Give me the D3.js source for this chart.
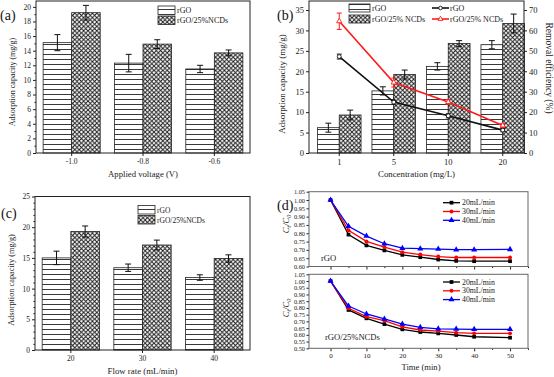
<!DOCTYPE html>
<html lang="en">
<head>
<meta charset="utf-8">
<title>Adsorption panels</title>
<script src="https://cdn.jsdelivr.net/npm/d3@7"></script>
<style>
  body { margin: 0; background: #fff; }
  svg { display: block; font-family: "Liberation Serif", "Times New Roman", serif; }
</style>
</head>
<body>
<script>
// (a) applied voltage
const voltages = ["-1.0", "-0.8", "-0.6"];
const voltRGO = [15.1, 12.3, 11.5];
const voltRGOErr = [1.1, 1.2, 0.5];
const voltNCD = [19.2, 14.9, 13.7];
const voltNCDErr = [1.0, 0.6, 0.4];

// (b) concentration
const concs = ["1", "5", "10", "20"];
const concRGO = [6.2, 15.2, 21.2, 26.5];
const concRGOErr = [1.1, 1.0, 0.9, 1.0];
const concNCD = [9.3, 19.2, 26.8, 31.7];
const concNCDErr = [1.2, 1.1, 0.7, 2.3];
const remRGO = [47.2, 24.9, 18.2, 11.2];
const remRGOErr = [1.2, 1.0, 1.0, 0.8];
const remNCD = [64.5, 34.5, 25.0, 13.5];
const remNCDErr = [4.0, 2.2, 1.2, 1.0];

// (c) flow rate
const flows = ["20", "30", "40"];
const flowRGO = [15.0, 13.4, 11.8];
const flowRGOErr = [1.1, 0.6, 0.45];
const flowNCD = [19.3, 17.1, 14.9];
const flowNCDErr = [0.9, 0.8, 0.6];

// (d) Ct/C0 vs time
const times = [0, 5, 10, 15, 20, 25, 30, 35, 40, 50];
const flowNames = ["20mL/min", "30mL/min", "40mL/min"];
const rgo20 = [1.00, 0.792, 0.727, 0.697, 0.670, 0.656, 0.642, 0.634, 0.632, 0.632];
const rgo30 = [1.00, 0.818, 0.751, 0.717, 0.686, 0.672, 0.660, 0.654, 0.654, 0.654];
const rgo40 = [1.00, 0.842, 0.783, 0.737, 0.710, 0.707, 0.705, 0.701, 0.701, 0.703];
const ncd20 = [1.00, 0.785, 0.723, 0.680, 0.641, 0.621, 0.611, 0.599, 0.586, 0.579];
const ncd30 = [1.00, 0.797, 0.735, 0.705, 0.660, 0.636, 0.628, 0.616, 0.611, 0.611];
const ncd40 = [1.00, 0.814, 0.755, 0.718, 0.680, 0.656, 0.645, 0.643, 0.641, 0.641];

const FONT = '"Liberation Serif", "Times New Roman", serif';
const INK = "#222";

let svg = d3.select("body").append("svg")
  .attr("width", 554)
  .attr("height", 377);

// fill patterns
let defs = svg.append("defs");
let hp = defs.append("pattern").attr("id", "hstripe")
  .attr("patternUnits", "userSpaceOnUse").attr("width", 6).attr("height", 5);
hp.append("rect").attr("width", 6).attr("height", 5).attr("fill", "#fff");
hp.append("line").attr("x1", 0).attr("x2", 6).attr("y1", 4.5).attr("y2", 4.5)
  .attr("stroke", "#222").attr("stroke-width", 0.9);

let xp = defs.append("pattern").attr("id", "xhatch")
  .attr("patternUnits", "userSpaceOnUse").attr("width", 4.4).attr("height", 4.4);
xp.append("rect").attr("width", 4.4).attr("height", 4.4).attr("fill", "#fff");
xp.append("path").attr("d", "M-1,-1L5.4,5.4M5.4,-1L-1,5.4")
  .attr("stroke", "#1a1a1a").attr("stroke-width", 0.95);

function styleAxis(sel, fs) {
  sel.select(".domain").remove();
  sel.attr("font-family", FONT);
  sel.selectAll("text").attr("font-size", fs).attr("fill", INK);
  sel.selectAll("line").attr("stroke", INK);
}

function frame(g, x0, y0, x1, y1, color) {
  g.append("rect")
    .attr("x", x0).attr("y", y0)
    .attr("width", x1 - x0).attr("height", y1 - y0)
    .attr("fill", "none")
    .attr("stroke", color || INK)
    .attr("stroke-width", 1);
}

function label(g, txt, x, y, fs, rot) {
  let t = g.append("text")
    .attr("font-size", fs)
    .attr("fill", INK)
    .attr("text-anchor", "middle")
    .text(txt);
  if (rot) t.attr("transform", `translate(${x},${y}) rotate(${rot})`);
  else t.attr("x", x).attr("y", y);
  return t;
}

function errBars(g, xs, ys, lo, hi, color, cap) {
  g.selectAll(null).data(xs).enter().append("path")
    .attr("d", (d, i) => {
      let a = ys(lo[i]), b = ys(hi[i]);
      return `M${d},${a}V${b}M${d - cap},${a}H${d + cap}M${d - cap},${b}H${d + cap}`;
    })
    .attr("fill", "none")
    .attr("stroke", color)
    .attr("stroke-width", 1);
}

function barPanel(p) {
  let g = svg.append("g");
  let x = d3.scaleBand().domain(p.cats).range(p.xRange)
    .paddingInner(0.2).paddingOuter(0.1);
  let inner = d3.scaleBand().domain(["rgo", "ncd"]).range([0, x.bandwidth()]);
  let y = d3.scaleLinear().domain([0, p.yMax]).range([p.y1, p.y0]);

  let series = [
    { key: "rgo", vals: p.rgo, errs: p.rgoErr, fill: "url(#hstripe)" },
    { key: "ncd", vals: p.ncd, errs: p.ncdErr, fill: "url(#xhatch)" }
  ];

  series.forEach(s => {
    g.selectAll(null).data(p.cats).enter().append("rect")
      .attr("x", c => x(c) + inner(s.key))
      .attr("y", (c, i) => y(s.vals[i]))
      .attr("width", inner.bandwidth())
      .attr("height", (c, i) => y(0) - y(s.vals[i]))
      .attr("fill", s.fill)
      .attr("stroke", INK)
      .attr("stroke-width", 0.8);
  });
  series.forEach(s => {
    let cx = p.cats.map(c => x(c) + inner(s.key) + inner.bandwidth() / 2);
    let lo = s.vals.map((v, i) => v - s.errs[i]);
    let hi = s.vals.map((v, i) => v + s.errs[i]);
    errBars(g, cx, y, lo, hi, "#111", 3);
  });

  // axes
  g.append("g").attr("transform", `translate(${p.x0},0)`)
    .call(d3.axisLeft(y).tickValues(p.yTicks).tickSize(3).tickPadding(2))
    .call(styleAxis, p.tickFs);
  if (p.yMinor) {
    g.append("g").attr("transform", `translate(${p.x0},0)`)
      .call(d3.axisLeft(y).tickValues(p.yMinor).tickSize(1.6).tickFormat(""))
      .call(styleAxis, p.tickFs);
  }
  g.append("g").attr("transform", `translate(0,${p.y1})`)
    .call(d3.axisBottom(x).tickSize(3).tickPadding(3))
    .call(styleAxis, p.xTickFs || p.tickFs);

  frame(g, p.x0, p.y0, p.x1, p.y1);

  // bar legend
  let L = p.leg;
  let names = ["rGO", L.second];
  ["url(#hstripe)", "url(#xhatch)"].forEach((f, i) => {
    g.append("rect")
      .attr("x", L.x).attr("y", L.y + i * L.gap)
      .attr("width", L.w).attr("height", L.h)
      .attr("fill", f).attr("stroke", INK).attr("stroke-width", 0.8);
    g.append("text")
      .attr("x", L.x + L.w + 2).attr("y", L.y + i * L.gap + L.h - 1.5)
      .attr("font-size", L.fs).attr("fill", INK)
      .text(names[i]);
  });

  label(g, p.xTitle, (p.x0 + p.x1) / 2, p.xTitleY, p.xTitleFs);
  label(g, "Adsorption capacity (mg/g)", p.yTitleX, p.yTitleY, p.yTitleFs, -90);
  g.append("text").attr("x", p.tagX).attr("y", p.tagY)
    .attr("font-size", 14).attr("fill", "#111").text(p.tag);

  return { g: g, x: x, y: y };
}

// (a)
barPanel({
  cats: voltages, rgo: voltRGO, rgoErr: voltRGOErr, ncd: voltNCD, ncdErr: voltNCDErr,
  x0: 36, x1: 250, y0: 1, y1: 153, xRange: [36, 250], yMax: 20.8,
  yTicks: d3.range(0, 21, 2), yMinor: d3.range(1, 21, 2), tickFs: 7.5,
  leg: { x: 158, y: 6, w: 17, h: 8.5, gap: 10, fs: 8, second: "rGO/25%NCDs" },
  xTitle: "Applied voltage (V)", xTitleY: 177, xTitleFs: 8.7,
  yTitleX: 15, yTitleY: 82, yTitleFs: 8,
  tag: "(a)", tagX: 0, tagY: 20
});

// (b)
let pb = barPanel({
  cats: concs, rgo: concRGO, rgoErr: concRGOErr, ncd: concNCD, ncdErr: concNCDErr,
  x0: 309, x1: 524, y0: 1, y1: 153, xRange: [312, 530], yMax: 37.2,
  yTicks: d3.range(0, 36, 5), tickFs: 8.5,
  leg: { x: 349, y: 4, w: 21, h: 8, gap: 11, fs: 8, second: "rGO/25% NCDs" },
  xTitle: "Concentration (mg/L)", xTitleY: 177, xTitleFs: 8.8,
  yTitleX: 285, yTitleY: 84, yTitleFs: 9,
  tag: "(b)", tagX: 277, tagY: 20
});

// (b) removal efficiency on the right axis
let y2 = d3.scaleLinear().domain([0, 74.4]).range([153, 1]);
pb.g.append("g").attr("transform", "translate(524,0)")
  .call(d3.axisRight(y2).tickValues(d3.range(0, 71, 10)).tickSize(3).tickPadding(2))
  .call(styleAxis, 8.5);
label(pb.g, "Removal efficiency (%)", 546, 68, 9.5, 90);

let cxs = concs.map(c => pb.x(c) + pb.x.bandwidth() / 2);
let remSeries = [
  { vals: remRGO, errs: remRGOErr, color: "#111", sym: "circle", name: "rGO" },
  { vals: remNCD, errs: remNCDErr, color: "#ff1a1a", sym: "triangle", name: "rGO/25% NCDs" }
];
remSeries.forEach((s, k) => {
  let line = d3.line().x((d, i) => cxs[i]).y(d => y2(d));
  pb.g.append("path").datum(s.vals)
    .attr("d", line).attr("fill", "none")
    .attr("stroke", s.color).attr("stroke-width", 1.6);
  errBars(pb.g, cxs, y2,
    s.vals.map((v, i) => v - s.errs[i]), s.vals.map((v, i) => v + s.errs[i]),
    s.color, 2.5);
  let shape = s.sym === "circle" ? d3.symbolCircle : d3.symbolTriangle;
  pb.g.selectAll(null).data(s.vals).enter().append("path")
    .attr("d", d3.symbol(shape).size(12))
    .attr("transform", (d, i) => `translate(${cxs[i]},${y2(d)})`)
    .attr("fill", "#fff").attr("stroke", s.color).attr("stroke-width", 0.9);

  // line legend
  let ly = 8 + k * 11;
  pb.g.append("line").attr("x1", 432).attr("x2", 449).attr("y1", ly).attr("y2", ly)
    .attr("stroke", s.color).attr("stroke-width", 1.6);
  pb.g.append("path").attr("d", d3.symbol(shape).size(10))
    .attr("transform", `translate(440.5,${ly})`)
    .attr("fill", "#fff").attr("stroke", s.color).attr("stroke-width", 0.9);
  pb.g.append("text").attr("x", 450).attr("y", ly + 3)
    .attr("font-size", 8).attr("fill", INK).text(s.name);
});

// (c)
barPanel({
  cats: flows, rgo: flowRGO, rgoErr: flowRGOErr, ncd: flowNCD, ncdErr: flowNCDErr,
  x0: 35, x1: 250, y0: 196.5, y1: 350, xRange: [35, 250], yMax: 25,
  yTicks: d3.range(0, 26, 5), yMinor: d3.range(1, 25, 1).filter(v => v % 5 !== 0), tickFs: 7.5,
  leg: { x: 138, y: 205.5, w: 17, h: 8.5, gap: 10, fs: 7.5, second: "rGO/25%NCDs" },
  xTitle: "Flow rate (mL/min)", xTitleY: 374, xTitleFs: 8.8,
  yTitleX: 14, yTitleY: 280, yTitleFs: 8.3,
  tag: "(c)", tagX: 1, tagY: 218
});

// (d) two stacked kinetics plots sharing time axis
let xt = d3.scaleLinear().domain([-6, 55]).range([309, 528]);
let kinColors = ["#000", "#ff0000", "#0000ff"];
let kinSyms = [d3.symbolSquare, d3.symbolCircle, d3.symbolTriangle];
let kinSizes = [14, 12, 16];

function kinPanel(p) {
  let g = svg.append("g");
  let y = d3.scaleLinear().domain(p.yDom).range([p.y1, p.y0]);
  let line = d3.line().x((d, i) => xt(times[i])).y(d => y(d));

  p.series.forEach((vals, k) => {
    g.append("path").datum(vals)
      .attr("d", line).attr("fill", "none")
      .attr("stroke", kinColors[k]).attr("stroke-width", 1.3);
  });
  p.series.forEach((vals, k) => {
    g.selectAll(null).data(vals).enter().append("path")
      .attr("d", d3.symbol(kinSyms[k]).size(kinSizes[k]))
      .attr("transform", (d, i) => `translate(${xt(times[i])},${y(d)})`)
      .attr("fill", kinColors[k]);
  });

  g.append("g").attr("transform", "translate(309,0)")
    .call(d3.axisLeft(y).tickValues(p.yTicks).tickSize(2.5).tickPadding(1.5)
      .tickFormat(d3.format(".2f")))
    .call(styleAxis, 6.3);
  g.append("g").attr("transform", `translate(0,${p.y1})`)
    .call(d3.axisBottom(xt).tickValues(d3.range(0, 51, 10)).tickSize(3)
      .tickPadding(1.5).tickFormat(p.showX ? d3.format("d") : ""))
    .call(styleAxis, 7);
  g.append("g").attr("transform", `translate(0,${p.y1})`)
    .call(d3.axisBottom(xt).tickValues(d3.range(5, 56, 10)).tickSize(1.6).tickFormat(""))
    .call(styleAxis, 7);

  frame(g, 309, p.y0, 528, p.y1, "#666");

  // legend
  flowNames.forEach((n, k) => {
    let ly = p.legY + k * 8.8;
    g.append("line").attr("x1", 443).attr("x2", 460).attr("y1", ly).attr("y2", ly)
      .attr("stroke", kinColors[k]).attr("stroke-width", 1.3);
    g.append("path").attr("d", d3.symbol(kinSyms[k]).size(kinSizes[k]))
      .attr("transform", `translate(451.5,${ly})`).attr("fill", kinColors[k]);
    g.append("text").attr("x", 462).attr("y", ly + 2.6)
      .attr("font-size", 7.8).attr("fill", INK).text(n);
  });

  g.append("text").attr("x", p.nameX).attr("y", p.nameY)
    .attr("font-size", 8.6).attr("fill", INK).text(p.name);

  // Ct/C0 label
  let yl = g.append("text")
    .attr("transform", `translate(289,${p.labelY}) rotate(-90)`)
    .attr("text-anchor", "middle").attr("font-size", 8.5)
    .attr("font-style", "italic").attr("fill", INK);
  yl.append("tspan").text("C");
  yl.append("tspan").attr("font-size", 6).attr("dy", 2).text("t");
  yl.append("tspan").attr("dy", -2).text("/C");
  yl.append("tspan").attr("font-size", 6).attr("dy", 2).text("0");
  return g;
}

kinPanel({
  series: [rgo20, rgo30, rgo40], yDom: [0.6, 1.05], y0: 191.7, y1: 266.5,
  yTicks: d3.range(12, 22).map(v => v * 0.05), showX: false,
  legY: 202.7, name: "rGO", nameX: 321, nameY: 261, labelY: 224
});
kinPanel({
  series: [ncd20, ncd30, ncd40], yDom: [0.5, 1.05], y0: 274.3, y1: 348.3,
  yTicks: d3.range(10, 22).map(v => v * 0.05), showX: true,
  legY: 282, name: "rGO/25%NCDs", nameX: 325, nameY: 339.5, labelY: 308
});
label(svg, "Time (min)", 421, 370, 8.6);
svg.append("text").attr("x", 277).attr("y", 210)
  .attr("font-size", 14).attr("fill", "#111").text("(d)");
</script>
</body>
</html>
